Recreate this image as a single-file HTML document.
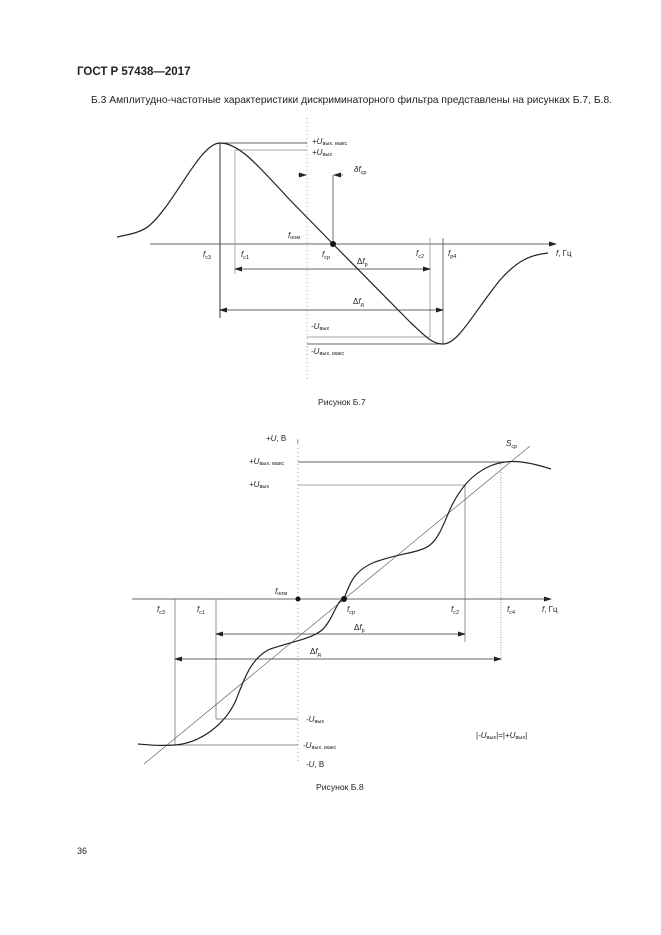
<!DOCTYPE html>
<html><head><meta charset="utf-8"><style>
html,body{margin:0;padding:0;background:#fff;}
svg{display:block;font-family:"Liberation Sans",sans-serif;}
</style></head><body>
<svg width="661" height="935" viewBox="0 0 661 935" xmlns="http://www.w3.org/2000/svg">
<defs>
<marker id="a" markerWidth="8" markerHeight="6" refX="7" refY="3" orient="auto-start-reverse" markerUnits="userSpaceOnUse"><path d="M0,0.5 L8,3 L0,5.5 Z" fill="#222"/></marker>
</defs>
<text x="77" y="75" font-size="11.5" font-weight="bold" fill="#222">ГОСТ Р 57438—2017</text>
<text x="91" y="103" font-size="10.3" fill="#222">Б.3 Амплитудно-частотные характеристики дискриминаторного фильтра представлены на рисунках Б.7, Б.8.</text>

<!-- Figure B.7 -->
<g stroke="#333" fill="none" stroke-width="0.7">
<line x1="150" y1="244" x2="556" y2="244" marker-end="url(#a)"/>
<line x1="307" y1="118" x2="307" y2="380" stroke-dasharray="1 3" stroke="#777"/>
<line x1="220" y1="143" x2="307" y2="143"/>
<line x1="235" y1="150" x2="307" y2="150" stroke="#888"/>
<line x1="220" y1="143" x2="220" y2="318" stroke-width="1"/>
<line x1="235" y1="150" x2="235" y2="274" stroke="#888"/>
<line x1="430" y1="238" x2="430" y2="337" stroke="#888"/>
<line x1="443" y1="238" x2="443" y2="344"/>
<line x1="235" y1="269" x2="430" y2="269" marker-start="url(#a)" marker-end="url(#a)"/>
<line x1="220" y1="310" x2="443" y2="310" marker-start="url(#a)" marker-end="url(#a)"/>
<line x1="307" y1="337" x2="430" y2="337" stroke="#888"/>
<line x1="307" y1="344" x2="443" y2="344"/>
<line x1="333" y1="175" x2="333" y2="244"/>
<line x1="298" y1="175" x2="306" y2="175" marker-end="url(#a)"/>
<line x1="343" y1="175" x2="334" y2="175" marker-end="url(#a)"/>
<path d="M117,237 C132,234 142,232 150,225 C175,203 200,143 220,143 C240,143 260,168 290,200 L333,244 L410,322 C425,336 432,344 443,344 C458,344 472,315 500,280 C518,260 530,255 548,253" stroke-width="1.2" stroke="#222"/>
</g>
<circle cx="333" cy="244" r="3" fill="#111"/>
<g font-size="8" fill="#222" font-style="italic">
<text x="312" y="144">+U<tspan font-size="5.5" font-style="normal" dy="1">вых. макс</tspan></text>
<text x="312" y="155">+U<tspan font-size="5.5" font-style="normal" dy="1">вых</tspan></text>
<text x="354" y="172">δf<tspan font-size="5.5" font-style="normal" dy="2">ср</tspan></text>
<text x="288" y="238">f<tspan font-size="5.5" font-style="normal" dy="1">ном</tspan></text>
<text x="203" y="257">f<tspan font-size="5.5" font-style="normal" dy="2">с3</tspan></text>
<text x="241" y="257">f<tspan font-size="5.5" font-style="normal" dy="2">с1</tspan></text>
<text x="322" y="257">f<tspan font-size="5.5" font-style="normal" dy="2">ср</tspan></text>
<text x="357" y="264"><tspan font-style="normal">Δ</tspan>f<tspan font-size="5.5" font-style="normal" dy="2">р</tspan></text>
<text x="416" y="256">f<tspan font-size="5.5" font-style="normal" dy="2">с2</tspan></text>
<text x="448" y="256">f<tspan font-size="5.5" font-style="normal" dy="2">р4</tspan></text>
<text x="556" y="256">f<tspan font-style="normal">, Гц</tspan></text>
<text x="353" y="304"><tspan font-style="normal">Δ</tspan>f<tspan font-size="5.5" font-style="normal" dy="2">д</tspan></text>
<text x="311" y="329">-U<tspan font-size="5.5" font-style="normal" dy="1">вых</tspan></text>
<text x="311" y="354">-U<tspan font-size="5.5" font-style="normal" dy="1">вых. макс</tspan></text>
</g>
<text x="318" y="405" font-size="8.6" fill="#222">Рисунок Б.7</text>

<!-- Figure B.8 -->
<g stroke="#333" fill="none" stroke-width="0.7">
<line x1="132" y1="599" x2="551" y2="599" marker-end="url(#a)"/>
<line x1="298" y1="440" x2="298" y2="762" stroke-dasharray="1 3" stroke="#777"/>
<line x1="298" y1="462" x2="508" y2="462"/>
<line x1="298" y1="485" x2="465" y2="485" stroke="#888"/>
<line x1="175" y1="599" x2="175" y2="745" stroke="#666"/>
<line x1="216" y1="599" x2="216" y2="719" stroke="#666"/>
<line x1="465" y1="485" x2="465" y2="642" stroke="#666"/>
<line x1="501" y1="462" x2="501" y2="660" stroke-dasharray="1 1.5" stroke="#777"/>
<line x1="216" y1="634" x2="465" y2="634" marker-start="url(#a)" marker-end="url(#a)"/>
<line x1="175" y1="659" x2="501" y2="659" marker-start="url(#a)" marker-end="url(#a)"/>
<line x1="216" y1="719" x2="298" y2="719" stroke="#666"/>
<line x1="175" y1="745" x2="298" y2="745" stroke="#666"/>
<line x1="144" y1="764" x2="530" y2="446" stroke="#555" stroke-width="0.6"/>
<path d="M138,744 C150,745 160,746 175,745 C200,743 225,725 236,700 C244,680 250,660 268,650 C285,643 310,640 322,630 C333,620 337,599 344,599 C350,582 355,570 375,562 C400,553 420,553 430,545 C440,537 445,520 452,505 C460,490 470,475 490,466 C505,460 520,459 551,469" stroke-width="1.2" stroke="#222"/>
</g>
<circle cx="344" cy="599" r="3" fill="#111"/>
<circle cx="298" cy="599" r="2.5" fill="#111"/>
<g font-size="8" fill="#222" font-style="italic">
<text x="266" y="441">+U<tspan font-style="normal">, B</tspan></text>
<text x="296" y="443" font-style="normal" font-size="7">↓</text>
<text x="506" y="446">S<tspan font-size="5.5" font-style="normal" dy="2">ср</tspan></text>
<text x="249" y="464">+U<tspan font-size="5.5" font-style="normal" dy="1">вых. макс</tspan></text>
<text x="249" y="487">+U<tspan font-size="5.5" font-style="normal" dy="1">вых</tspan></text>
<text x="275" y="594">f<tspan font-size="5.5" font-style="normal" dy="1">ном</tspan></text>
<text x="157" y="612">f<tspan font-size="5.5" font-style="normal" dy="2">с3</tspan></text>
<text x="197" y="612">f<tspan font-size="5.5" font-style="normal" dy="2">с1</tspan></text>
<text x="347" y="612">f<tspan font-size="5.5" font-style="normal" dy="2">ср</tspan></text>
<text x="451" y="612">f<tspan font-size="5.5" font-style="normal" dy="2">с2</tspan></text>
<text x="507" y="612">f<tspan font-size="5.5" font-style="normal" dy="2">с4</tspan></text>
<text x="542" y="612">f<tspan font-style="normal">, Гц</tspan></text>
<text x="354" y="630"><tspan font-style="normal">Δ</tspan>f<tspan font-size="5.5" font-style="normal" dy="2">р</tspan></text>
<text x="310" y="654"><tspan font-style="normal">Δ</tspan>f<tspan font-size="5.5" font-style="normal" dy="2">д</tspan></text>
<text x="306" y="722">-U<tspan font-size="5.5" font-style="normal" dy="1">вых</tspan></text>
<text x="303" y="748">-U<tspan font-size="5.5" font-style="normal" dy="1">вых. макс</tspan></text>
<text x="306" y="767">-U<tspan font-style="normal">, B</tspan></text>
<text x="476" y="738"><tspan font-style="normal">|</tspan>-U<tspan font-size="5.5" font-style="normal" dy="1">вых</tspan><tspan font-style="normal" dy="-1">|=|</tspan>+U<tspan font-size="5.5" font-style="normal" dy="1">вых</tspan><tspan font-style="normal" dy="-1">|</tspan></text>
</g>
<text x="316" y="790" font-size="8.6" fill="#222">Рисунок Б.8</text>
<text x="77" y="854" font-size="9" fill="#222">36</text>
</svg>
</body></html>
